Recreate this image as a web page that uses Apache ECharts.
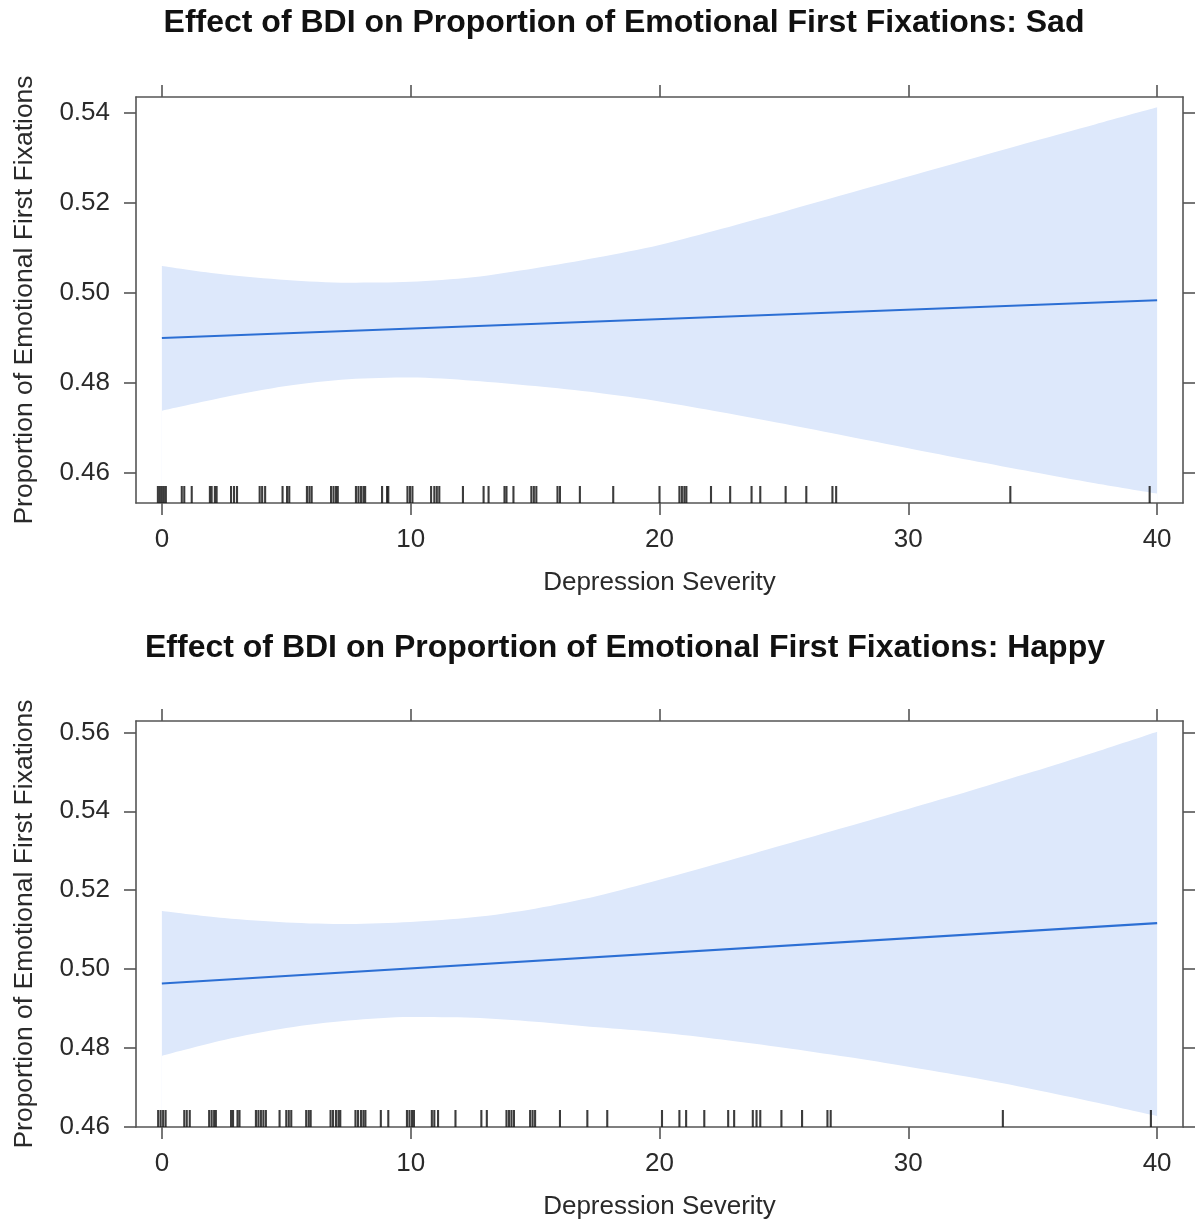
<!DOCTYPE html>
<html>
<head>
<meta charset="utf-8">
<script src="https://cdn.jsdelivr.net/npm/echarts@6/dist/echarts.min.js"></script>
<style>
  html, body { margin: 0; padding: 0; background: #fff; }
  #chart { width: 1196px; height: 1226px; }
</style>
</head>
<body>
<div id="chart"></div>
<script>
// values
const bdiX = [0, 2.5, 5, 7.5, 10, 12.5, 15, 17.5, 20, 22.5, 25, 27.5, 30, 32.5, 35, 37.5, 40];
const xTicks = [0, 10, 20, 30, 40];

const sadUpper = [0.5059, 0.5040, 0.5028, 0.5022, 0.5024, 0.5034, 0.5054, 0.5078, 0.5106, 0.5142, 0.5180, 0.5219, 0.5258, 0.5297, 0.5336, 0.5374, 0.5412];
const sadLower = [0.4737, 0.4767, 0.4792, 0.4807, 0.4811, 0.4804, 0.4792, 0.4777, 0.4758, 0.4734, 0.4708, 0.4681, 0.4654, 0.4627, 0.4601, 0.4576, 0.4553];
const sadFitX = [0, 40];
const sadFit = [0.4899, 0.4983];
const sadTicks = [0.46, 0.48, 0.50, 0.52, 0.54];
// BDI scores of the rug, as read (jittered copies of the same score sit side by side)
const sadRug = [-0.16, -0.08, 0, 0.08, 0.16, 0.8, 0.9, 1.2, 1.93, 2.0, 2.13, 2.2, 2.78, 2.9, 3.02, 3.93, 4.03, 4.15,
  4.85, 5.03, 5.12, 5.83, 5.93, 6.02, 6.8, 6.9, 7.0, 7.07, 7.8, 7.9, 8.0, 8.1, 8.17, 8.85, 9.05, 9.1,
  9.87, 9.97, 10.07, 10.82, 10.95, 11.05, 11.15, 12.1, 12.93, 13.13, 13.77, 13.85, 14.13, 14.85, 14.95, 15.05,
  15.9, 16.0, 16.8, 18.14, 20.0, 20.8, 20.9, 21.0, 21.08, 22.07, 22.84, 23.7, 24.05, 25.07, 25.9, 26.95, 27.1, 34.1, 39.7];

const happyUpper = [0.5147, 0.5129, 0.5118, 0.5114, 0.5119, 0.5131, 0.5153, 0.5185, 0.5226, 0.5270, 0.5315, 0.5360, 0.5406, 0.5452, 0.5500, 0.5550, 0.5602];
const happyLower = [0.4780, 0.4820, 0.4850, 0.4869, 0.4878, 0.4876, 0.4866, 0.4852, 0.4839, 0.4821, 0.4800, 0.4777, 0.4752, 0.4725, 0.4695, 0.4662, 0.4627];
const happyFitX = [0, 40];
const happyFit = [0.4963, 0.5116];
const happyTicks = [0.46, 0.48, 0.50, 0.52, 0.54, 0.56];
const happyRug = [-0.15, -0.05, 0.05, 0.15, 0.9, 1.0, 1.12, 1.9, 2.0, 2.1, 2.17, 2.78, 2.86, 3.04, 3.12,
  3.78, 3.88, 3.98, 4.08, 4.18, 4.73, 5.0, 5.1, 5.2, 5.8, 5.9, 5.98, 6.78, 6.88, 7.0, 7.1, 7.17,
  7.78, 7.88, 8.0, 8.1, 8.18, 8.8, 9.1, 9.85, 9.95, 10.05, 10.13, 10.85, 10.95, 11.1, 11.8, 12.84, 13.06,
  13.85, 13.95, 14.05, 14.15, 14.8, 14.9, 15.0, 16.0, 17.1, 17.9, 20.1, 20.8, 21.07, 21.8, 22.76, 23.0,
  23.75, 23.9, 24.05, 24.9, 25.73, 26.75, 26.88, 33.8, 39.75];

const xMin = -1.04, xMax = 41.04;
const sadYMin = 0.4532, sadYMax = 0.5435;
const happyYMin = 0.4599, happyYMax = 0.5629;

const FONT = "'Liberation Sans', Arial, Helvetica, sans-serif";
const AXIS_COLOR = '#555';
const TEXT_COLOR = '#2a2a2a';
const BAND_COLOR = '#dde8fb';
const LINE_COLOR = '#2c6fd4';

const chart = echarts.init(document.getElementById('chart'));

function xAxes(gridIndex) {
  const base = {
    type: 'value', gridIndex, min: xMin, max: xMax,
    splitLine: { show: false },
    axisLine: { show: true, onZero: false, lineStyle: { color: AXIS_COLOR, width: 1.6 } },
    axisTick: { show: true, length: 12, customValues: xTicks, lineStyle: { color: AXIS_COLOR, width: 1.6 } }
  };
  return [
    Object.assign({}, base, {
      position: 'bottom',
      name: 'Depression Severity', nameLocation: 'middle', nameGap: 67,
      nameTextStyle: { fontFamily: FONT, fontSize: 26, color: TEXT_COLOR },
      axisLabel: { customValues: xTicks, margin: 24, fontFamily: FONT, fontSize: 26, color: TEXT_COLOR }
    }),
    Object.assign({}, base, { position: 'top', axisLabel: { show: false } })
  ];
}

function yAxes(gridIndex, min, max, ticks) {
  const base = {
    type: 'value', gridIndex, min, max,
    splitLine: { show: false },
    axisLine: { show: true, onZero: false, lineStyle: { color: AXIS_COLOR, width: 1.6 } },
    axisTick: { show: true, length: 12, customValues: ticks, lineStyle: { color: AXIS_COLOR, width: 1.6 } }
  };
  return [
    Object.assign({}, base, {
      position: 'left',
      name: 'Proportion of Emotional First Fixations', nameLocation: 'middle', nameGap: 98,
      nameTextStyle: { fontFamily: FONT, fontSize: 26.5, color: TEXT_COLOR },
      axisLabel: { customValues: ticks, margin: 26, fontFamily: FONT, fontSize: 26, color: TEXT_COLOR,
        formatter: v => v.toFixed(2) }
    }),
    Object.assign({}, base, { position: 'right', axisLabel: { show: false } })
  ];
}

function panelSeries(axisIndex, upper, lower, fitX, fit, rug) {
  return [
    {
      // band: fill under the upper limit, then blank out under the lower limit
      type: 'line', xAxisIndex: axisIndex, yAxisIndex: axisIndex,
      data: bdiX.map((x, i) => [x, upper[i]]),
      smooth: 0.3, symbol: 'none', lineStyle: { width: 0 },
      areaStyle: { color: BAND_COLOR, opacity: 1, origin: 'start' },
      silent: true, z: -2
    },
    {
      type: 'line', xAxisIndex: axisIndex, yAxisIndex: axisIndex,
      data: bdiX.map((x, i) => [x, lower[i]]),
      smooth: 0.3, symbol: 'none', lineStyle: { width: 0 },
      areaStyle: { color: '#ffffff', opacity: 1, origin: 'start' },
      silent: true, z: -1
    },
    {
      type: 'line', xAxisIndex: axisIndex, yAxisIndex: axisIndex,
      data: fitX.map((x, i) => [x, fit[i]]),
      symbol: 'none', lineStyle: { color: LINE_COLOR, width: 2.2 }, z: 3
    },
    {
      type: 'custom', xAxisIndex: axisIndex, yAxisIndex: axisIndex,
      data: rug.map(v => [v]),
      renderItem: (params, api) => {
        const x = api.coord([api.value(0), 0])[0];
        const yBottom = params.coordSys.y + params.coordSys.height;
        return {
          type: 'line',
          shape: { x1: x, y1: yBottom, x2: x, y2: yBottom - 17 },
          style: { stroke: '#1a1a1a', lineWidth: 2.1, opacity: 0.85 }
        };
      },
      encode: { x: 0 },
      silent: true, z: 2
    }
  ];
}

const option = {
  backgroundColor: '#fff',
  animation: false,
  grid: [
    { left: 136, top: 97, width: 1047, height: 406, show: false, outerBoundsMode: 'none', containLabel: false },
    { left: 136, top: 721, width: 1047, height: 406, show: false, outerBoundsMode: 'none', containLabel: false }
  ],
  graphic: [
    { type: 'text', x: 624, y: 23,
      style: { text: 'Effect of BDI on Proportion of Emotional First Fixations: Sad', font: 'bold 32px ' + FONT,
        fill: '#111', align: 'center', verticalAlign: 'middle' } },
    { type: 'text', x: 625, y: 648,
      style: { text: 'Effect of BDI on Proportion of Emotional First Fixations: Happy', font: 'bold 32px ' + FONT,
        fill: '#111', align: 'center', verticalAlign: 'middle' } }
  ],
  // x axes: 0 bottom / 1 top of the Sad panel, 2 bottom / 3 top of the Happy panel (same for y: left / right)
  xAxis: [...xAxes(0), ...xAxes(1)],
  yAxis: [...yAxes(0, sadYMin, sadYMax, sadTicks), ...yAxes(1, happyYMin, happyYMax, happyTicks)],
  series: [
    ...panelSeries(0, sadUpper, sadLower, sadFitX, sadFit, sadRug),
    ...panelSeries(2, happyUpper, happyLower, happyFitX, happyFit, happyRug)
  ]
};

chart.setOption(option);
window.addEventListener('resize', () => chart.resize());
</script>
</body>
</html>
